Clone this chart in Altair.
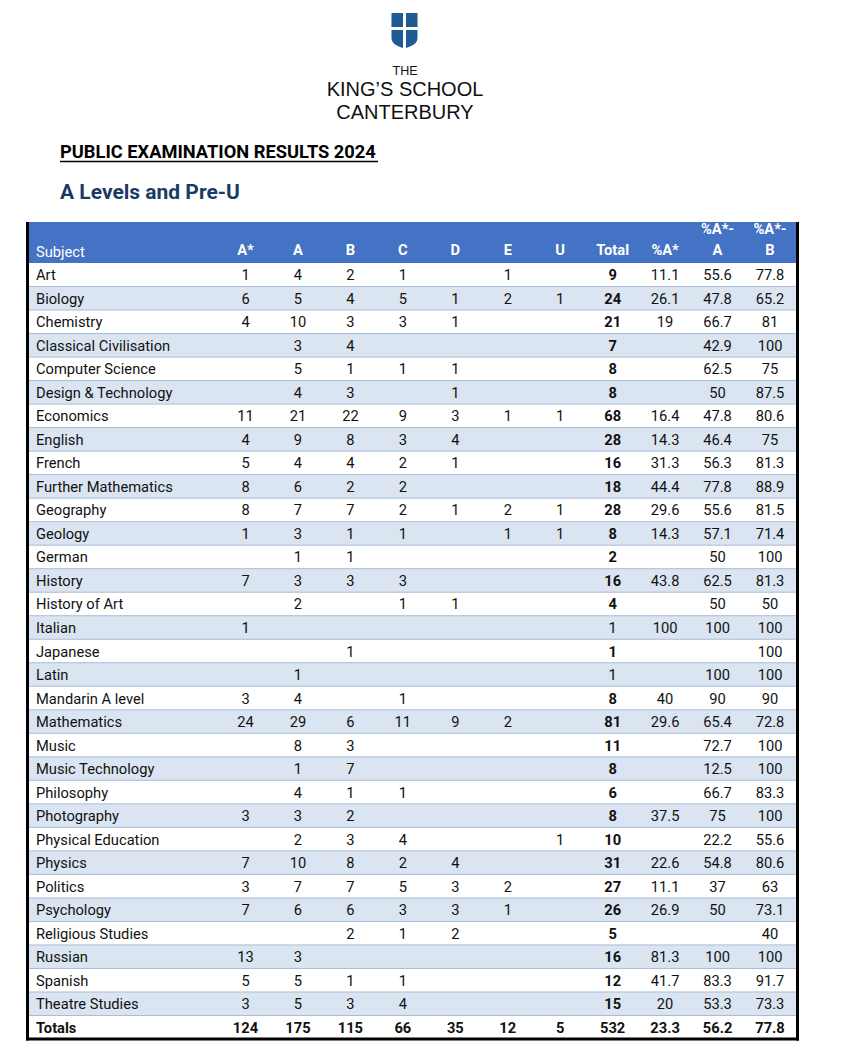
import altair as alt
import pandas as pd

N = None
SUBJECTS = ["Art", "Biology", "Chemistry", "Classical Civilisation", "Computer Science",
            "Design & Technology", "Economics", "English", "French", "Further Mathematics",
            "Geography", "Geology", "German", "History", "History of Art", "Italian",
            "Japanese", "Latin", "Mandarin A level", "Mathematics", "Music",
            "Music Technology", "Philosophy", "Photography", "Physical Education",
            "Physics", "Politics", "Psychology", "Religious Studies", "Russian",
            "Spanish", "Theatre Studies", "Totals"]
COLS = ["A*", "A", "B", "C", "D", "E", "U", "Total", "%A*", "%A*-A", "%A*-B"]

A_STAR = [1, 6, 4, N, N, N, 11, 4, 5, 8, 8, 1, N, 7, N, 1, N, N, 3, 24, N, N, N, 3, N, 7, 3, 7, N, 13, 5, 3, 124]
GRADE_A = [4, 5, 10, 3, 5, 4, 21, 9, 4, 6, 7, 3, 1, 3, 2, N, N, 1, 4, 29, 8, 1, 4, 3, 2, 10, 7, 6, N, 3, 5, 5, 175]
GRADE_B = [2, 4, 3, 4, 1, 3, 22, 8, 4, 2, 7, 1, 1, 3, N, N, 1, N, N, 6, 3, 7, 1, 2, 3, 8, 7, 6, 2, N, 1, 3, 115]
GRADE_C = [1, 5, 3, N, 1, N, 9, 3, 2, 2, 2, 1, N, 3, 1, N, N, N, 1, 11, N, N, 1, N, 4, 2, 5, 3, 1, N, 1, 4, 66]
GRADE_D = [N, 1, 1, N, 1, 1, 3, 4, 1, N, 1, N, N, N, 1, N, N, N, N, 9, N, N, N, N, N, 4, 3, 3, 2, N, N, N, 35]
GRADE_E = [1, 2, N, N, N, N, 1, N, N, N, 2, 1, N, N, N, N, N, N, N, 2, N, N, N, N, N, N, 2, 1, N, N, N, N, 12]
GRADE_U = [N, 1, N, N, N, N, 1, N, N, N, 1, 1, N, N, N, N, N, N, N, N, N, N, N, N, 1, N, N, N, N, N, N, N, 5]
TOTAL = [9, 24, 21, 7, 8, 8, 68, 28, 16, 18, 28, 8, 2, 16, 4, 1, 1, 1, 8, 81, 11, 8, 6, 8, 10, 31, 27, 26, 5, 16, 12, 15, 532]
PCT_ASTAR = [11.1, 26.1, 19, N, N, N, 16.4, 14.3, 31.3, 44.4, 29.6, 14.3, N, 43.8, N, 100, N, N, 40, 29.6,
             N, N, N, 37.5, N, 22.6, 11.1, 26.9, N, 81.3, 41.7, 20, 23.3]
PCT_ASTAR_A = [55.6, 47.8, 66.7, 42.9, 62.5, 50, 47.8, 46.4, 56.3, 77.8, 55.6, 57.1, 50, 62.5, 50, 100, N, 100,
               90, 65.4, 72.7, 12.5, 66.7, 75, 22.2, 54.8, 37, 50, N, 100, 83.3, 53.3, 56.2]
PCT_ASTAR_B = [77.8, 65.2, 81, 100, 75, 87.5, 80.6, 75, 81.3, 88.9, 81.5, 71.4, 100, 81.3, 50, 100, 100, 100,
               90, 72.8, 100, 100, 83.3, 100, 55.6, 80.6, 63, 73.1, 40, 100, 91.7, 73.3, 77.8]
PLAIN_TOTALS = ["Italian", "Latin"]

HEADER_LINE1 = ["", "", "", "", "", "", "", "", "", "%A*-", "%A*-"]
HEADER_LINE2 = ["A*", "A", "B", "C", "D", "E", "U", "Total", "%A*", "A", "B"]

SERIES = [A_STAR, GRADE_A, GRADE_B, GRADE_C, GRADE_D, GRADE_E, GRADE_U, TOTAL,
          PCT_ASTAR, PCT_ASTAR_A, PCT_ASTAR_B]

rows = []
for i, s in enumerate(SUBJECTS):
    for col, arr in zip(COLS, SERIES):
        v = arr[i]
        if v is None:
            continue
        bold = (s == "Totals") or (col == "Total" and s not in PLAIN_TOTALS)
        rows.append({"subject": s, "col": col, "label": f"{v:g}", "bold": bold})
cells = pd.DataFrame(rows)
subj_df = pd.DataFrame({"subject": SUBJECTS, "idx": list(range(len(SUBJECTS)))})
head_df = pd.DataFrame({"col": COLS, "l1": HEADER_LINE1, "l2": HEADER_LINE2})

FONT = "Roboto"
FS = 14.7
DY = 1.5
X0, X1 = 21, 788       # table inner edges (chart px)
YTOP, YBOT = 214, 1031  # header top, table bottom

yscale = alt.Scale(domain=SUBJECTS, range=[255, YBOT], paddingInner=0, paddingOuter=0)
xscale = alt.Scale(domain=COLS, range=[237.5, 762], padding=0)
Y = lambda **kw: alt.Y("subject:N", scale=yscale, axis=None, **kw)
X = alt.X("col:N", scale=xscale, axis=None)

base_subj = alt.Chart(subj_df)

stripes = base_subj.transform_filter("datum.idx % 2 == 1").mark_rect(color="#DAE5F1").encode(
    y=Y(), x=alt.value(X0), x2=alt.value(X1))

seps = base_subj.transform_filter("datum.idx > 0").mark_rule(color="#A9BCD8", strokeWidth=1).encode(
    y=Y(bandPosition=0), x=alt.value(X0), x2=alt.value(X1))

header_bg = alt.Chart(pd.DataFrame({"k": [0]})).mark_rect(color="#4472C4").encode(
    x=alt.value(X0), x2=alt.value(X1), y=alt.value(YTOP), y2=alt.value(255))

subj_text_plain = base_subj.transform_filter("datum.subject != 'Totals'").mark_text(
    align="left", baseline="middle", font=FONT, fontSize=FS, color="#111111", dy=DY).encode(
    y=Y(), x=alt.value(28), text="subject:N")
subj_text_bold = base_subj.transform_filter("datum.subject == 'Totals'").mark_text(
    align="left", baseline="middle", font=FONT, fontSize=FS, fontWeight="bold", color="#111111", dy=DY).encode(
    y=Y(), x=alt.value(28), text="subject:N")

cell_base = alt.Chart(cells)
cells_plain = cell_base.transform_filter("!datum.bold").mark_text(
    align="center", baseline="middle", font=FONT, fontSize=FS, color="#111111", dy=DY).encode(
    y=Y(), x=X, text="label:N")
cells_bold = cell_base.transform_filter("datum.bold").mark_text(
    align="center", baseline="middle", font=FONT, fontSize=FS, fontWeight="bold", color="#111111", dy=DY).encode(
    y=Y(), x=X, text="label:N")

head_base = alt.Chart(head_df)
head_l1 = head_base.mark_text(align="center", baseline="middle", font=FONT, fontSize=FS,
                              fontWeight="bold", color="white").encode(
    x=X, y=alt.value(222), text="l1:N")
head_l2 = head_base.mark_text(align="center", baseline="middle", font=FONT, fontSize=FS,
                              fontWeight="bold", color="white").encode(
    x=X, y=alt.value(243), text="l2:N")
head_subj = alt.Chart(pd.DataFrame({"t": ["Subject"]})).mark_text(
    align="left", baseline="middle", font=FONT, fontSize=FS, color="white").encode(
    x=alt.value(28), y=alt.value(245), text="t:N")

border = alt.Chart(pd.DataFrame({"k": [0]}))
b_left = border.mark_rule(color="black", strokeWidth=3).encode(
    x=alt.value(X0 - 1.5), y=alt.value(YTOP), y2=alt.value(YBOT + 1.5))
b_right = border.mark_rule(color="black", strokeWidth=3).encode(
    x=alt.value(X1 + 1.5), y=alt.value(YTOP), y2=alt.value(YBOT + 1.5))
b_bottom = border.mark_rule(color="black", strokeWidth=3).encode(
    x=alt.value(X0 - 3), x2=alt.value(X1 + 3), y=alt.value(YBOT))

# Titles
title1 = alt.Chart(pd.DataFrame({"t": ["PUBLIC EXAMINATION RESULTS 2024"]})).mark_text(
    align="left", baseline="middle", font=FONT, fontSize=18.3, fontWeight="bold", color="black").encode(
    x=alt.value(52), y=alt.value(145), text="t:N")
underline = border.mark_rule(color="black", strokeWidth=1.3).encode(
    x=alt.value(52), x2=alt.value(370), y=alt.value(153.5))
title2 = alt.Chart(pd.DataFrame({"t": ["A Levels and Pre-U"]})).mark_text(
    align="left", baseline="middle", font=FONT, fontSize=21, fontWeight="bold", color="#1B3A66").encode(
    x=alt.value(52), y=alt.value(185), text="t:N")

# Logo
SHIELD = ("M -0.743 -1 L -0.086 -1 L -0.086 -0.2 L -0.743 -0.2 Z "
          "M 0.086 -1 L 0.743 -1 L 0.743 -0.2 L 0.086 -0.2 Z "
          "M -0.743 -0.03 L -0.086 -0.03 L -0.086 1 C -0.4 0.9 -0.743 0.75 -0.743 0.43 Z "
          "M 0.086 -0.03 L 0.743 -0.03 L 0.743 0.43 C 0.743 0.75 0.4 0.9 0.086 1 Z")
shield = border.mark_point(shape=SHIELD, filled=True, color="#1E5A94", opacity=1, size=1225,
                           strokeWidth=0).encode(x=alt.value(396.5), y=alt.value(22.5))
LOGO_FONT = "Liberation Sans"
logo_the = alt.Chart(pd.DataFrame({"t": ["THE"]})).mark_text(
    align="center", baseline="middle", font=LOGO_FONT, fontSize=12.5, color="#111111").encode(
    x=alt.value(397), y=alt.value(63), text="t:N")
logo_k = alt.Chart(pd.DataFrame({"t": ["KING\u2019S SCHOOL"]})).mark_text(
    align="center", baseline="middle", font=LOGO_FONT, fontSize=20, color="#111111").encode(
    x=alt.value(397), y=alt.value(82), text="t:N")
logo_c = alt.Chart(pd.DataFrame({"t": ["CANTERBURY"]})).mark_text(
    align="center", baseline="middle", font=LOGO_FONT, fontSize=20, color="#111111").encode(
    x=alt.value(397), y=alt.value(104.5), text="t:N")

chart = alt.layer(
    header_bg, stripes, seps, head_l1, head_l2, head_subj,
    subj_text_plain, subj_text_bold, cells_plain, cells_bold,
    b_left, b_right, b_bottom,
    title1, underline, title2, shield, logo_the, logo_k, logo_c,
).properties(width=836, height=1041, padding=0, autosize="none").configure_view(stroke=None)

chart.save("out.html", embed_options={"renderer": "svg", "actions": False})
